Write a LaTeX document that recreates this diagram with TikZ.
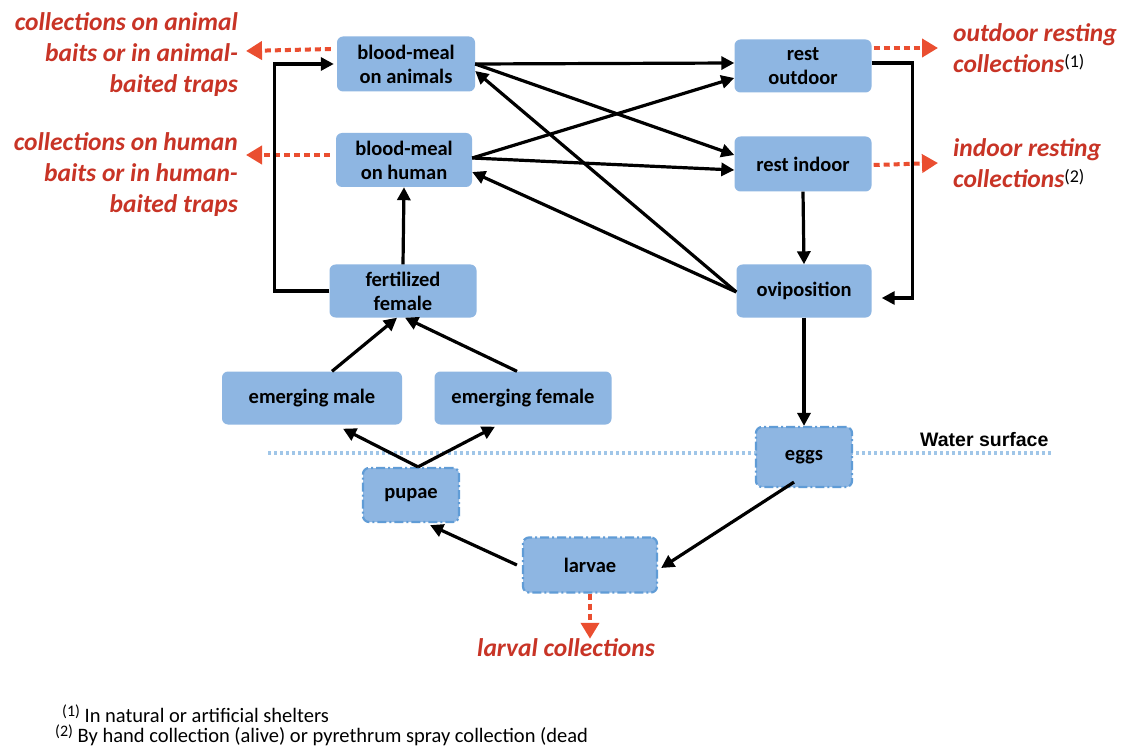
\documentclass[tikz,border=0pt]{standalone}
\usepackage{fontspec}
\setmainfont{Carlito}
\newfontfamily\wsfont{Liberation Sans}
\usetikzlibrary{arrows.meta,calc}
\definecolor{boxfill}{RGB}{142,182,226}
\definecolor{boxdash}{RGB}{96,156,214}
\definecolor{redtxt}{RGB}{200,52,38}
\definecolor{redarrow}{RGB}{234,78,48}
\definecolor{water}{RGB}{160,198,232}
\tikzset{
  box/.style={rounded corners=6pt, fill=boxfill, draw=none, align=center,
    font=\bfseries\fontsize{20.5}{24}\selectfont, inner sep=0pt},
  wbox/.style={box, draw=boxdash, line width=2.2pt,
    dash pattern=on 9pt off 3pt on 2pt off 3pt},
  arr/.style={line width=3.2pt, -{Triangle[length=13pt,width=13pt]}},
  redarr/.style={draw=redarrow, line width=4pt, dash pattern=on 6pt off 4pt,
    -{Triangle[length=16pt,width=18pt]}},
  redlbl/.style={text=redtxt, font=\bfseries\itshape\fontsize{25.5}{31}\selectfont, inner sep=0pt},
  note/.style={font=\fontsize{20.5}{21}\selectfont, inner sep=0pt, anchor=base west},
}
\newcommand{\supnum}[1]{{\color{black}\normalfont\fontsize{18}{18}\selectfont\raisebox{0.55ex}{(#1)}}}
\begin{document}
\begin{tikzpicture}[x=1pt,y=-1pt]
\useasboundingbox (0,0) rectangle (1122,746);
\fill[white] (0,0) rectangle (1122,746);

% water surface
\coordinate (ws1) at (268,453);
\coordinate (ws2) at (1052,453);
\draw[water, line width=3.2pt, dash pattern=on 3pt off 3pt] (ws1) -- (ws2);
\node[font=\wsfont\bfseries\fontsize{19.5}{24}\selectfont, anchor=base west, inner sep=0pt] (wst) at (920,446) {Water surface};

% boxes
\node[box, minimum width=138pt, minimum height=55pt] (ani) at (406,64) {blood-meal\\on animals};
\node[box, minimum width=136pt, minimum height=54pt] (hum) at (404,160) {blood-meal\\on human};
\node[box, minimum width=137pt, minimum height=53pt] (out) at (803,66) {rest\\outdoor};
\node[box, minimum width=137pt, minimum height=55pt] (ind) at (803,164) {rest indoor};
\node[box, minimum width=135pt, minimum height=53pt] (ovi) at (804,291) {oviposition};
\node[box, minimum width=147pt, minimum height=53pt] (fer) at (403,291) {fertilized\\female};
\node[box, minimum width=180pt, minimum height=53pt] (em) at (312,398) {emerging male};
\node[box, minimum width=177pt, minimum height=53pt] (ef) at (523,398) {emerging female};
\node[wbox, minimum width=96pt, minimum height=60pt] (eggs) at (804,457) {eggs};
\node[wbox, minimum width=96pt, minimum height=54pt] (pup) at (411,495) {pupae};
\node[wbox, minimum width=134pt, minimum height=55pt] (lar) at (590,565) {larvae};

% red labels
\node[redlbl, align=right, anchor=east] (lani) at (238,55) {collections on animal\\baits or in animal-\\baited traps};
\node[redlbl, align=right, anchor=east] (lhum) at (238,175) {collections on human\\baits or in human-\\baited traps};
\node[redlbl, align=left, anchor=west] (lout) at (953,48) {outdoor resting\\collections\supnum{1}};
\node[redlbl, align=left, anchor=west] (lind) at (953,163) {indoor resting\\collections\supnum{2}};
\node[redlbl, anchor=center] (llar) at (566,648) {larval collections};

% red dashed arrows
\draw[redarr] ($(ani.west)+(-6,-15)$) -- ($(lani.east)+(8,-4)$);
\draw[redarr] ($(hum.west)+(-6,-5)$) -- ($(lhum.east)+(8,-20)$);
\draw[redarr] ($(out.east)+(2,-18)$) -- ($(lout.west)+(-15,0)$);
\draw[redarr] ($(ind.east)+(2,1)$) -- ($(lind.west)+(-15,0)$);
\draw[redarr] (lar.south) -- (lar.south |- llar.north);

% black arrows
\draw[arr] ($(ani.east)+(0,0)$) -- ($(out.west)+(0,-3)$);
\draw[arr] ($(ani.east)+(0,0)$) -- ($(ind.west)+(0,-9)$);
\draw[arr] ($(hum.east)+(0,-2)$) -- ($(out.west)+(0,12)$);
\draw[arr] ($(hum.east)+(0,-2)$) -- ($(ind.west)+(0,6)$);
\draw[arr] ($(ovi.west)+(0,1)$) -- ($(ani.east)+(0,7)$);
\draw[arr] ($(ovi.west)+(0,1)$) -- ($(hum.east)+(0,12)$);
\draw[arr] (ind.south) -- (ovi.north);
\draw[arr] ($(out.east)+(0,-3)$) -| ($(ovi.east)+(41,7)$) -- ($(ovi.east)+(10,7)$);
\draw[arr] (fer.west) -| ($(ani.west)+(-62,0)$) -- ($(ani.west)+(-3,0)$);
\draw[arr] (fer.north) -- (hum.south);
\draw[arr] ($(em.north)+(20,0)$) -- ($(fer.south)+(-6,0)$);
\draw[arr] ($(ef.north)+(-6,0)$) -- ($(fer.south)+(2,0)$);
\draw[arr] ($(pup.north)+(7,0)$) -- ($(em.south)+(31,4)$);
\draw[arr] ($(pup.north)+(7,0)$) -- ($(ef.south)+(-28,2)$);
\draw[arr] ($(lar.west)+(-5,0)$) -- ($(pup.south east)+(-30,2)$);
\draw[arr] ($(eggs.south)+(-10,-6)$) -- ($(lar.east)+(3,3)$);
\draw[arr] (ovi.south) -- (eggs.north);

% footnotes
\node[note] (n1) at (62,722) {\raisebox{0.55ex}{\fontsize{16}{16}\selectfont(1)} In natural or artificial shelters};
\node[note] (n2) at (55,742) {\raisebox{0.55ex}{\fontsize{16}{16}\selectfont(2)} By hand collection (alive) or pyrethrum spray collection (dead};
\end{tikzpicture}
\end{document}
